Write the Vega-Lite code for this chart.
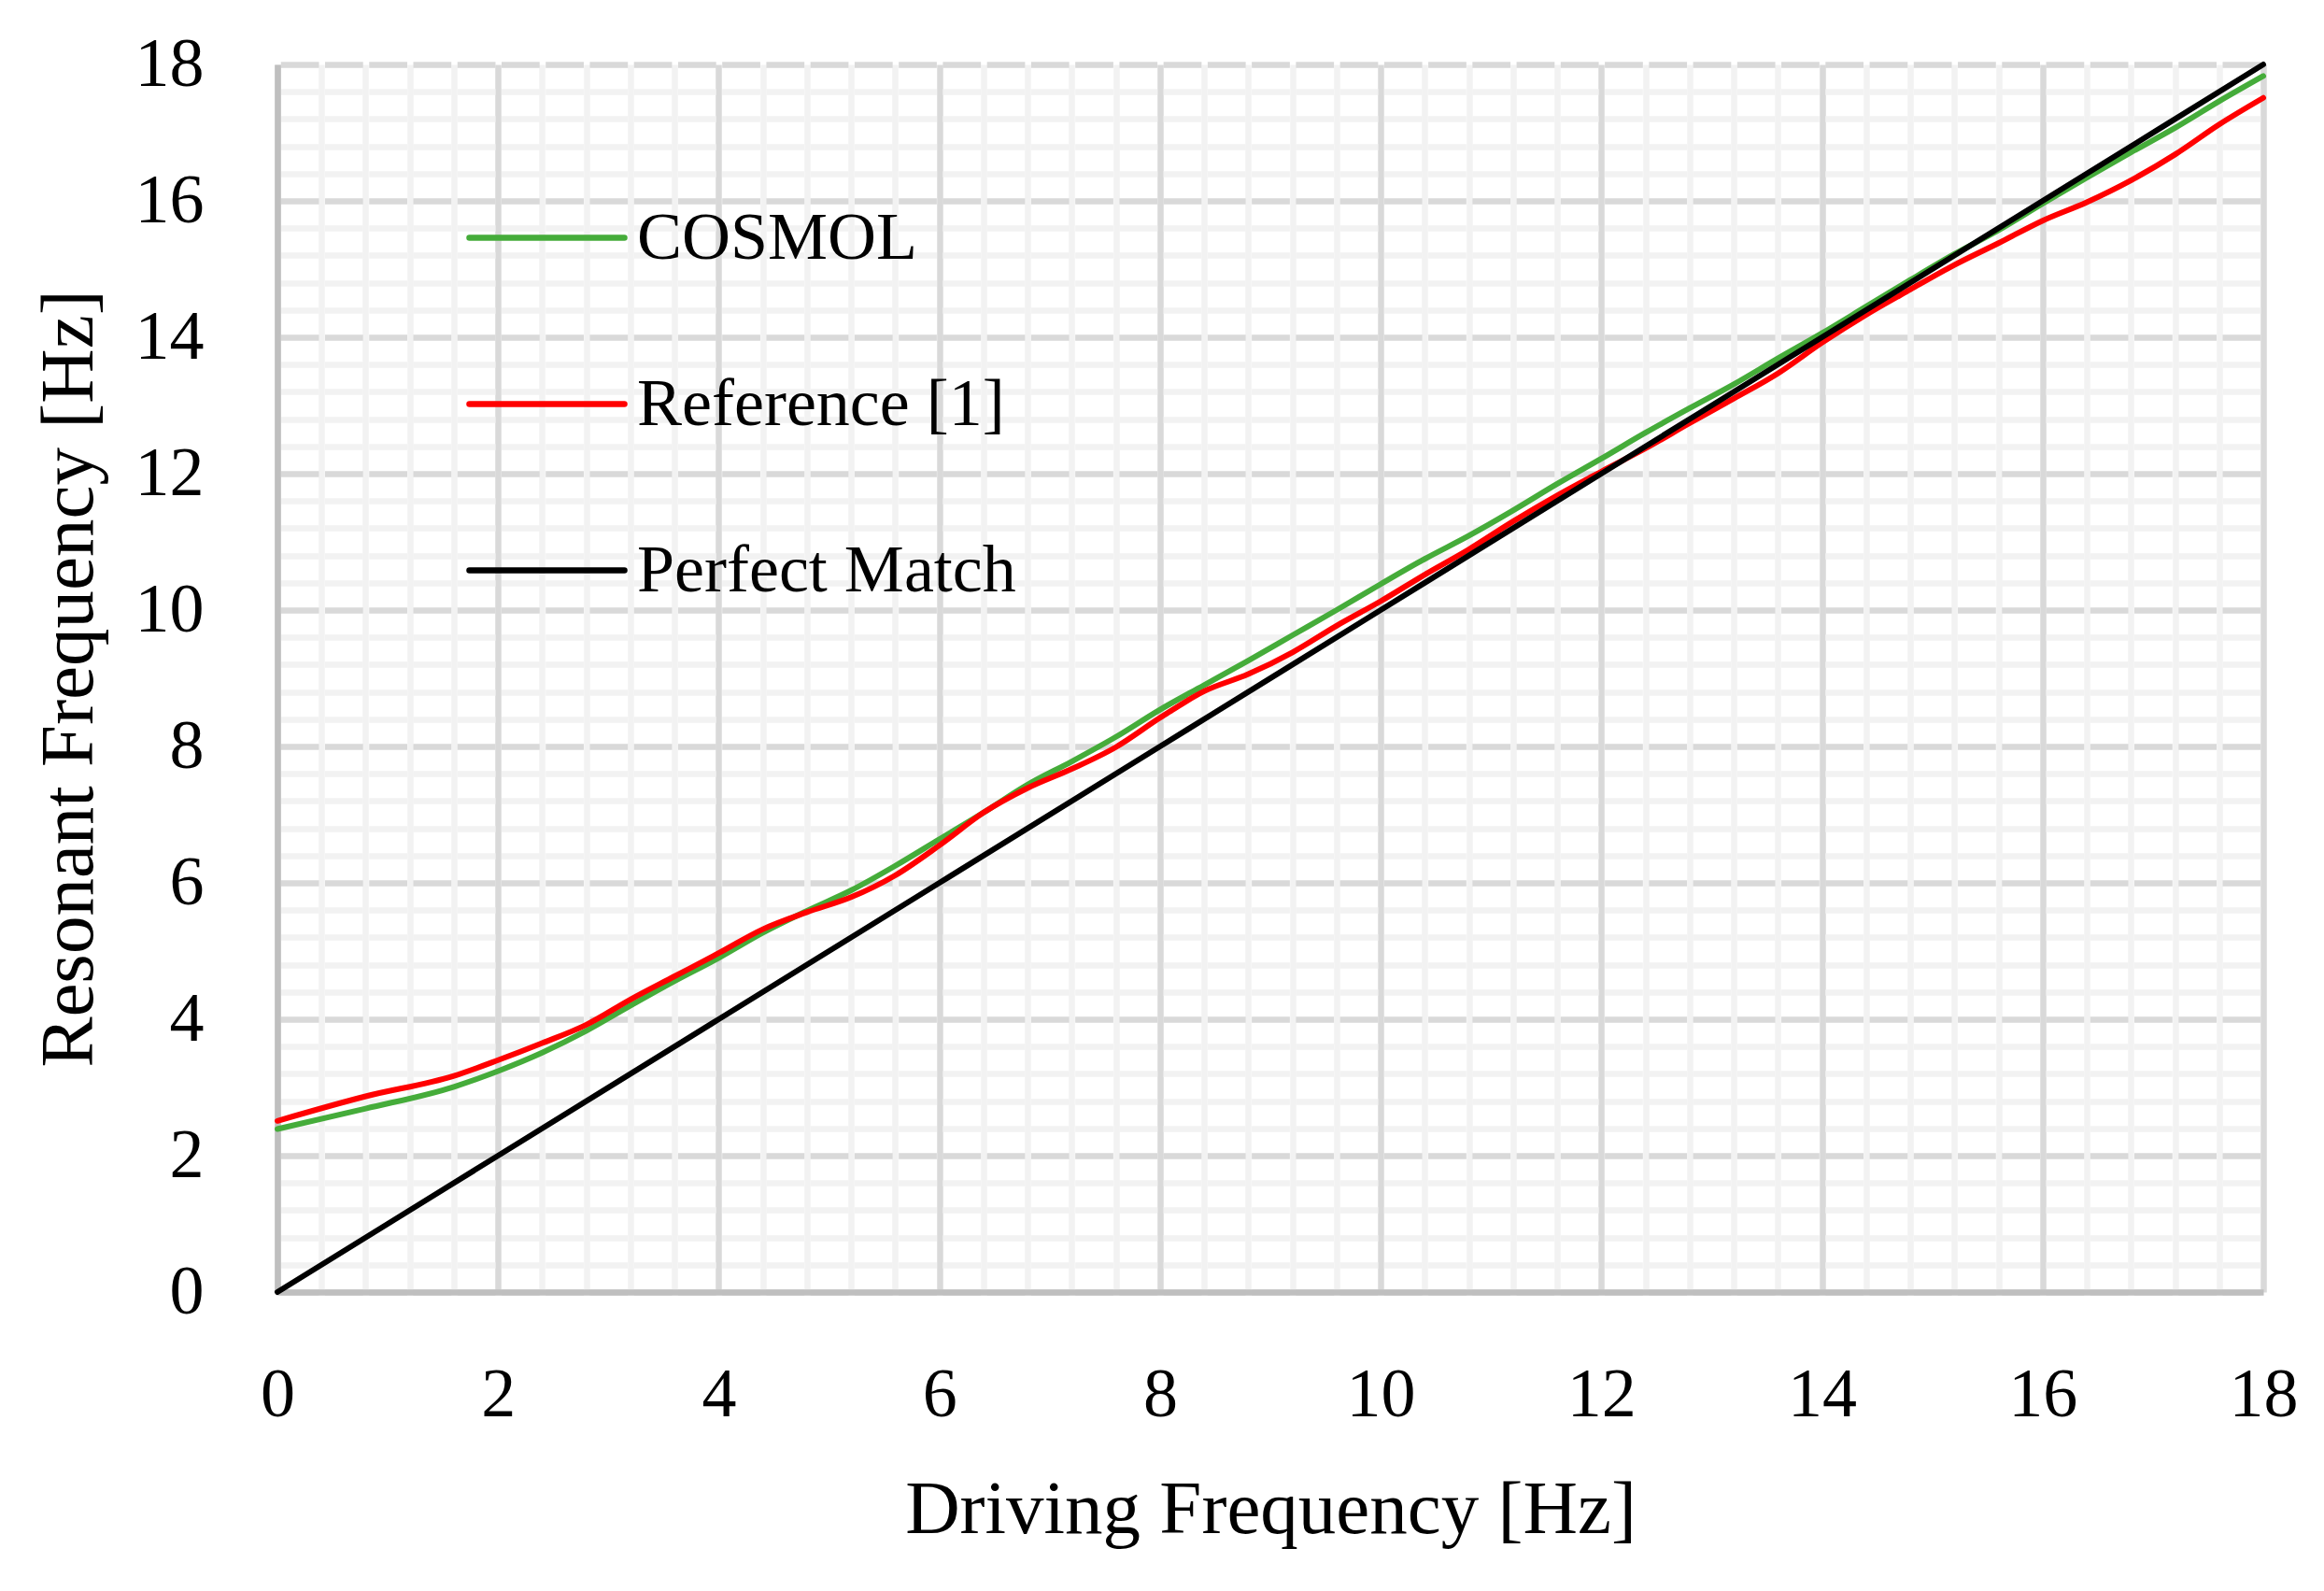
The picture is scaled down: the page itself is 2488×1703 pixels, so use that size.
{
  "$schema": "https://vega.github.io/schema/vega-lite/v6.json",
  "width": 2126,
  "height": 1314,
  "autosize": {"type": "none"},
  "padding": {"left": 297, "top": 69, "right": 65, "bottom": 320},
  "background": "white",
  "config": {"view": {"stroke": null}, "font": "Liberation Serif"},
  "datasets": {
    "curves": [
      {"series": "COSMOL", "x": 0, "y": 2.39},
      {"series": "COSMOL", "x": 0.8, "y": 2.69},
      {"series": "COSMOL", "x": 1.6, "y": 3.01},
      {"series": "COSMOL", "x": 2.0, "y": 3.24},
      {"series": "COSMOL", "x": 2.4, "y": 3.51},
      {"series": "COSMOL", "x": 2.8, "y": 3.83},
      {"series": "COSMOL", "x": 3.2, "y": 4.2},
      {"series": "COSMOL", "x": 3.6, "y": 4.56},
      {"series": "COSMOL", "x": 4.0, "y": 4.9},
      {"series": "COSMOL", "x": 4.4, "y": 5.27},
      {"series": "COSMOL", "x": 4.8, "y": 5.59},
      {"series": "COSMOL", "x": 5.2, "y": 5.89},
      {"series": "COSMOL", "x": 5.6, "y": 6.25},
      {"series": "COSMOL", "x": 6.0, "y": 6.64},
      {"series": "COSMOL", "x": 6.4, "y": 7.03},
      {"series": "COSMOL", "x": 6.8, "y": 7.44},
      {"series": "COSMOL", "x": 7.2, "y": 7.78},
      {"series": "COSMOL", "x": 7.6, "y": 8.14},
      {"series": "COSMOL", "x": 8.0, "y": 8.54},
      {"series": "COSMOL", "x": 8.4, "y": 8.9},
      {"series": "COSMOL", "x": 8.8, "y": 9.26},
      {"series": "COSMOL", "x": 9.2, "y": 9.63},
      {"series": "COSMOL", "x": 9.6, "y": 10.0},
      {"series": "COSMOL", "x": 10.0, "y": 10.38},
      {"series": "COSMOL", "x": 10.4, "y": 10.75},
      {"series": "COSMOL", "x": 10.8, "y": 11.09},
      {"series": "COSMOL", "x": 11.2, "y": 11.46},
      {"series": "COSMOL", "x": 11.6, "y": 11.85},
      {"series": "COSMOL", "x": 12.0, "y": 12.22},
      {"series": "COSMOL", "x": 12.4, "y": 12.6},
      {"series": "COSMOL", "x": 12.8, "y": 12.96},
      {"series": "COSMOL", "x": 13.2, "y": 13.31},
      {"series": "COSMOL", "x": 13.6, "y": 13.69},
      {"series": "COSMOL", "x": 14.0, "y": 14.06},
      {"series": "COSMOL", "x": 14.4, "y": 14.45},
      {"series": "COSMOL", "x": 14.8, "y": 14.84},
      {"series": "COSMOL", "x": 15.2, "y": 15.22},
      {"series": "COSMOL", "x": 15.6, "y": 15.57},
      {"series": "COSMOL", "x": 16.0, "y": 15.96},
      {"series": "COSMOL", "x": 16.4, "y": 16.34},
      {"series": "COSMOL", "x": 16.8, "y": 16.71},
      {"series": "COSMOL", "x": 17.2, "y": 17.07},
      {"series": "COSMOL", "x": 17.6, "y": 17.46},
      {"series": "COSMOL", "x": 18.0, "y": 17.83},
      {"series": "Reference [1]", "x": 0, "y": 2.51},
      {"series": "Reference [1]", "x": 0.8, "y": 2.87},
      {"series": "Reference [1]", "x": 1.6, "y": 3.17},
      {"series": "Reference [1]", "x": 2.0, "y": 3.4},
      {"series": "Reference [1]", "x": 2.4, "y": 3.65},
      {"series": "Reference [1]", "x": 2.8, "y": 3.92},
      {"series": "Reference [1]", "x": 3.2, "y": 4.29},
      {"series": "Reference [1]", "x": 3.6, "y": 4.63},
      {"series": "Reference [1]", "x": 4.0, "y": 4.97},
      {"series": "Reference [1]", "x": 4.4, "y": 5.32},
      {"series": "Reference [1]", "x": 4.8, "y": 5.57},
      {"series": "Reference [1]", "x": 5.2, "y": 5.79},
      {"series": "Reference [1]", "x": 5.6, "y": 6.11},
      {"series": "Reference [1]", "x": 6.0, "y": 6.55},
      {"series": "Reference [1]", "x": 6.4, "y": 7.03},
      {"series": "Reference [1]", "x": 6.8, "y": 7.39},
      {"series": "Reference [1]", "x": 7.2, "y": 7.67},
      {"series": "Reference [1]", "x": 7.6, "y": 7.99},
      {"series": "Reference [1]", "x": 8.0, "y": 8.42},
      {"series": "Reference [1]", "x": 8.4, "y": 8.81},
      {"series": "Reference [1]", "x": 8.8, "y": 9.06},
      {"series": "Reference [1]", "x": 9.2, "y": 9.38},
      {"series": "Reference [1]", "x": 9.6, "y": 9.77},
      {"series": "Reference [1]", "x": 10.0, "y": 10.13},
      {"series": "Reference [1]", "x": 10.4, "y": 10.52},
      {"series": "Reference [1]", "x": 10.8, "y": 10.89},
      {"series": "Reference [1]", "x": 11.2, "y": 11.3},
      {"series": "Reference [1]", "x": 11.6, "y": 11.68},
      {"series": "Reference [1]", "x": 12.0, "y": 12.03},
      {"series": "Reference [1]", "x": 12.4, "y": 12.37},
      {"series": "Reference [1]", "x": 12.8, "y": 12.74},
      {"series": "Reference [1]", "x": 13.2, "y": 13.1},
      {"series": "Reference [1]", "x": 13.6, "y": 13.47},
      {"series": "Reference [1]", "x": 14.0, "y": 13.92},
      {"series": "Reference [1]", "x": 14.4, "y": 14.33},
      {"series": "Reference [1]", "x": 14.8, "y": 14.7},
      {"series": "Reference [1]", "x": 15.2, "y": 15.06},
      {"series": "Reference [1]", "x": 15.6, "y": 15.38},
      {"series": "Reference [1]", "x": 16.0, "y": 15.71},
      {"series": "Reference [1]", "x": 16.4, "y": 15.98},
      {"series": "Reference [1]", "x": 16.8, "y": 16.3},
      {"series": "Reference [1]", "x": 17.2, "y": 16.68},
      {"series": "Reference [1]", "x": 17.6, "y": 17.12},
      {"series": "Reference [1]", "x": 18.0, "y": 17.51},
      {"series": "Perfect Match", "x": 0, "y": 0},
      {"series": "Perfect Match", "x": 2, "y": 2},
      {"series": "Perfect Match", "x": 4, "y": 4},
      {"series": "Perfect Match", "x": 6, "y": 6},
      {"series": "Perfect Match", "x": 8, "y": 8},
      {"series": "Perfect Match", "x": 10, "y": 10},
      {"series": "Perfect Match", "x": 12, "y": 12},
      {"series": "Perfect Match", "x": 14, "y": 14},
      {"series": "Perfect Match", "x": 16, "y": 16},
      {"series": "Perfect Match", "x": 18, "y": 18}
    ]
  },
  "layer": [
    {
      "data": {"name": "curves"},
      "mark": {"type": "line", "opacity": 0},
      "encoding": {
        "x": {
          "field": "x", "type": "quantitative",
          "scale": {"domain": [0, 18], "nice": false, "zero": false},
          "axis": {
            "orient": "top", "title": null, "labels": false, "ticks": false, "tickSize": 0, "domain": false,
            "grid": true, "gridColor": "#f2f2f2", "gridWidth": 6.5,
            "values": [0.4,0.8,1.2,1.6,2.4,2.8,3.2,3.6,4.4,4.8,5.2,5.6,6.4,6.8,7.2,7.6,8.4,8.8,9.2,9.6,10.4,10.8,11.2,11.6,12.4,12.8,13.2,13.6,14.4,14.8,15.2,15.6,16.4,16.8,17.2,17.6]
          }
        },
        "y": {
          "field": "y", "type": "quantitative",
          "scale": {"domain": [0, 18], "nice": false, "zero": false},
          "axis": {
            "orient": "right", "title": null, "labels": false, "ticks": false, "tickSize": 0, "domain": false,
            "grid": true, "gridColor": "#f2f2f2", "gridWidth": 6.5,
            "gridDash": [40.7444, 6.5], "gridDashOffset": 43.9944,
            "values": [0.4,0.8,1.2,1.6,2.4,2.8,3.2,3.6,4.4,4.8,5.2,5.6,6.4,6.8,7.2,7.6,8.4,8.8,9.2,9.6,10.4,10.8,11.2,11.6,12.4,12.8,13.2,13.6,14.4,14.8,15.2,15.6,16.4,16.8,17.2,17.6]
          }
        },
        "detail": {"field": "series"}
      }
    },
    {
      "data": {"name": "curves"},
      "mark": {"type": "line", "strokeWidth": 6, "interpolate": "monotone", "strokeCap": "round", "strokeJoin": "round"},
      "encoding": {
        "x": {
          "field": "x", "type": "quantitative",
          "scale": {"domain": [0, 18], "nice": false, "zero": false},
          "axis": {
            "orient": "bottom",
            "values": [0,2,4,6,8,10,12,14,16,18],
            "grid": true, "gridColor": "#d9d9d9", "gridWidth": 6.5,
            "domain": true, "domainColor": "#bfbfbf", "domainWidth": 6.5,
            "ticks": false, "tickSize": 0,
            "labelFont": "Liberation Serif", "labelFontSize": 74, "labelColor": "#000000",
            "labelPadding": 74, "labelFlush": false, "labelOverlap": false,
            "title": "Driving Frequency [Hz]",
            "titleFont": "Liberation Serif", "titleFontSize": 81, "titleFontWeight": "normal", "titleColor": "#000000",
            "titleX": 1063, "titleY": 257, "titleBaseline": "alphabetic", "titleAlign": "center"
          }
        },
        "y": {
          "field": "y", "type": "quantitative",
          "scale": {"domain": [0, 18], "nice": false, "zero": false},
          "axis": {
            "orient": "left",
            "values": [0,2,4,6,8,10,12,14,16,18],
            "grid": true, "gridColor": "#d9d9d9", "gridWidth": 6.5,
            "gridDash": [40.7444, 6.5], "gridDashOffset": 43.9944,
            "domain": true, "domainColor": "#bfbfbf", "domainWidth": 6.5,
            "ticks": false, "tickSize": 0,
            "labelFont": "Liberation Serif", "labelFontSize": 74, "labelColor": "#000000",
            "labelPadding": 79, "labelFlush": false, "labelOverlap": false,
            "title": "Resonant Frequency [Hz]",
            "titleFont": "Liberation Serif", "titleFontSize": 81, "titleFontWeight": "normal", "titleColor": "#000000",
            "titleX": -199, "titleY": 657, "titleAngle": -90, "titleBaseline": "alphabetic", "titleAlign": "center"
          }
        },
        "color": {
          "field": "series", "type": "nominal",
          "scale": {"domain": ["COSMOL", "Reference [1]", "Perfect Match"], "range": ["#45ac3a", "#ff0000", "#000000"]},
          "legend": {
            "orient": "none", "legendX": 202, "legendY": 99,
            "title": null, "padding": 0,
            "symbolType": "stroke", "symbolSize": 27556, "symbolStrokeWidth": 6.5,
            "labelFont": "Liberation Serif", "labelFontSize": 72, "labelColor": "#000000",
            "labelOffset": 10, "rowPadding": 55, "labelLimit": 0,
            "encode": {"symbols": {"update": {"strokeCap": {"value": "round"}}}}
          }
        }
      }
    }
  ],
  "resolve": {"axis": {"x": "independent", "y": "independent"}}
}
